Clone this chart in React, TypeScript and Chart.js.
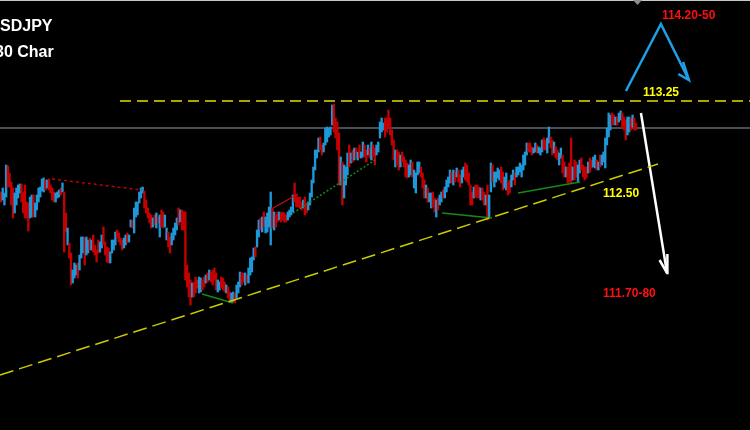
import React, { useEffect, useRef } from "react";
import { Chart, registerables } from "chart.js";

Chart.register(...registerables);

// Bar highs / lows (USDJPY, price), oldest first
const highs = [
  112.79,112.81,112.785,112.925,112.92,112.885,112.84,112.81,112.785,112.81,
  112.825,112.83,112.83,112.79,112.825,112.74,112.735,112.765,112.775,112.775,
  112.735,112.775,112.81,112.815,112.855,112.86,112.85,112.85,112.855,112.825,
  112.81,112.79,112.785,112.79,112.80,112.81,112.835,112.79,112.685,112.61,
  112.535,112.485,112.40,112.435,112.425,112.435,112.475,112.565,112.565,112.56,
  112.565,112.55,112.56,112.55,112.575,112.525,112.50,112.55,112.54,112.575,
  112.615,112.54,112.515,112.51,112.49,112.55,112.55,112.59,112.60,112.585,
  112.56,112.55,112.56,112.575,112.585,112.575,112.65,112.65,112.71,112.74,
  112.74,112.79,112.81,112.815,112.795,112.75,112.71,112.685,112.675,112.66,
  112.675,112.685,112.665,112.675,
  112.70,112.69,112.675,112.61,112.59,112.565,112.585,112.61,112.635,112.66,
  112.71,112.70,112.70,112.69,112.69,112.425,112.385,112.35,112.335,112.34,
  112.365,112.35,112.365,112.36,112.35,112.365,112.375,112.385,112.40,112.39,
  112.40,112.41,112.385,112.35,112.34,112.365,112.36,112.34,112.325,112.315,
  112.29,112.285,112.29,112.285,112.325,112.34,112.39,112.385,112.385,112.385,
  112.375,112.41,112.46,112.465,112.51,112.515,112.60,112.65,112.66,112.665,
  112.69,112.665,112.685,112.715,112.79,112.71,112.69,112.675,112.69,112.69,
  112.685,112.69,112.685,112.675,112.69,112.70,112.715,112.775,112.835,112.775,
  112.765,112.765,112.74,112.75,112.765,112.735,112.74,112.785,112.85,112.915,
  113.00,
  113.00,113.06,113.065,113.025,113.035,113.11,113.115,113.11,113.115,113.225,
  113.23,113.16,113.14,113.085,112.965,112.94,112.925,112.915,112.985,113.025,
  112.985,113.00,113.01,113.01,112.99,113.025,112.99,113.04,113.025,113.00,
  113.025,113.01,113.04,113.025,113.01,113.025,113.04,113.14,113.16,113.135,
  113.16,113.16,113.20,113.16,113.10,113.05,113.00,113.00,112.99,112.975,
  112.99,112.965,112.95,112.935,112.925,112.95,112.94,112.90,112.885,112.94,
  112.94,112.915,112.885,112.85,112.825,112.81,112.785,112.785,112.79,112.76,
  112.75,112.76,112.775,112.79,112.80,112.815,112.85,112.865,112.90,112.89,
  112.90,112.89,112.91,112.90,112.875,112.90,112.915,112.935,112.925,112.885,
  112.825,112.79,112.815,112.825,
  112.825,112.815,112.81,112.81,112.79,112.775,112.825,112.775,112.935,112.925,
  112.89,112.89,112.91,112.90,112.915,112.89,112.865,112.885,112.84,112.85,
  112.875,112.90,112.885,112.915,112.915,112.935,112.925,112.975,112.99,113.035,
  113.035,113.035,113.015,113.01,113.035,113.025,113.015,113.01,113.05,113.06,
  113.05,113.06,113.115,113.065,113.05,113.04,113.015,113.00,112.985,113.01,
  112.975,112.94,112.915,112.915,112.935,113.06,112.915,112.95,112.94,112.925,
  112.95,112.96,112.925,112.915,112.915,112.94,112.96,112.95,112.965,112.975,
  112.95,112.94,112.975,112.975,112.99,113.06,113.11,113.185,113.175,113.185,
  113.175,113.165,113.165,113.185,113.195,113.185,113.165,113.15,113.165,113.165,
  113.16,113.175,113.16,113.135,
];

const lows = [
  112.74,112.75,112.725,112.765,112.815,112.815,112.725,112.66,112.685,112.725,
  112.76,112.785,112.74,112.685,112.66,112.66,112.595,112.66,112.665,112.665,
  112.665,112.70,112.74,112.765,112.795,112.79,112.80,112.81,112.80,112.785,
  112.75,112.74,112.74,112.76,112.765,112.775,112.79,112.49,112.59,112.525,
  112.46,112.325,112.335,112.36,112.375,112.36,112.40,112.46,112.485,112.425,
  112.475,112.485,112.50,112.50,112.49,112.475,112.44,112.485,112.49,112.51,
  112.525,112.475,112.44,112.435,112.435,112.485,112.50,112.525,112.56,112.54,
  112.525,112.50,112.51,112.525,112.535,112.54,112.615,112.61,112.585,112.665,
  112.675,112.735,112.76,112.785,112.71,112.685,112.66,112.635,112.61,112.615,
  112.625,112.61,112.635,112.565,
  112.615,112.61,112.615,112.55,112.515,112.485,112.525,112.55,112.575,112.60,
  112.625,112.64,112.60,112.60,112.35,112.315,112.265,112.225,112.265,112.265,
  112.285,112.31,112.285,112.29,112.30,112.315,112.335,112.34,112.35,112.34,
  112.325,112.35,112.30,112.29,112.30,112.31,112.30,112.29,112.285,112.26,
  112.24,112.24,112.24,112.235,112.26,112.285,112.315,112.325,112.34,112.325,
  112.335,112.335,112.375,112.39,112.45,112.465,112.515,112.565,112.60,112.59,
  112.615,112.585,112.59,112.615,112.525,112.61,112.60,112.615,112.64,112.65,
  112.64,112.65,112.64,112.64,112.65,112.665,112.675,112.69,112.74,112.715,
  112.715,112.71,112.70,112.71,112.675,112.685,112.70,112.725,112.765,112.835,
  112.90,
  112.96,112.99,113.00,112.975,112.99,113.025,113.04,113.065,113.075,113.125,
  113.09,113.06,113.00,112.825,112.825,112.725,112.76,112.825,112.875,112.915,
  112.935,112.94,112.95,112.96,112.95,112.96,112.96,112.965,112.965,112.94,
  112.975,112.96,112.95,112.965,112.925,112.975,112.99,113.06,113.09,113.10,
  113.065,113.09,113.115,113.075,113.025,112.95,112.915,112.925,112.90,112.915,
  112.94,112.915,112.865,112.86,112.865,112.875,112.865,112.81,112.785,112.875,
  112.885,112.865,112.81,112.76,112.76,112.74,112.74,112.71,112.715,112.69,
  112.665,112.70,112.725,112.74,112.76,112.76,112.79,112.815,112.835,112.835,
  112.825,112.84,112.865,112.84,112.815,112.835,112.865,112.85,112.84,112.825,
  112.725,112.725,112.76,112.765,
  112.76,112.76,112.75,112.75,112.725,112.725,112.65,112.665,112.79,112.84,
  112.815,112.84,112.86,112.85,112.835,112.80,112.81,112.80,112.775,112.785,
  112.815,112.85,112.825,112.865,112.875,112.89,112.865,112.90,112.925,112.975,
  112.99,112.99,112.975,112.985,112.99,112.985,112.985,112.975,112.99,113.00,
  113.00,112.985,113.035,113.01,112.975,112.985,112.96,112.95,112.925,112.96,
  112.885,112.865,112.865,112.835,112.84,112.835,112.85,112.85,112.865,112.84,
  112.885,112.90,112.865,112.85,112.86,112.885,112.89,112.91,112.915,112.91,
  112.90,112.90,112.915,112.925,112.94,112.91,113.025,113.065,113.10,113.125,
  113.125,113.125,113.125,113.14,113.15,113.11,113.10,113.05,113.075,113.09,
  113.10,113.115,113.10,113.10,
];

// u = up bar (blue), d = down bar (red), same order as highs/lows
const dirsA =
  "duuudddduu" + "uuddddduud" + "uuuuuududd" + "dduuududdu" + "dduuuduuud" +
  "uududddduu" + "dddduuuudd" + "dduuduuduu" + "uuuudddddu" + "dudu";
const dirsB =
  "dduudduuuu" + "duddddddud" + "dduuddudud" + "ddduudddud" + "duuduuuddu" +
  "duuuuduudu" + "duuuududdu" + "dddduuuudd" + "dddudduuuu" + "u";
const dirsC =
  "uudduuuuuu" + "dddduduuud" + "udududuudd" + "ududduuuuu" + "dddddduddu" +
  "dddduuduuu" + "uddduduudd" + "uduuduuuud" + "ududduuddd" + "ddud";
const dirsD =
  "ddudduduud" + "uuuudduudd" + "uuduuuuuuu" + "ddduuduuud" + "duuddudduu" +
  "dduddduddu" + "uddddudduu" + "duduuuuuud" + "duduuddduu" + "dudd";

const barDirs = (dirsA + dirsB + dirsC + dirsD).split("");

// Levels and drawn lines (x = bar index, y = price)
const resistanceLevel = 113.245;
const pivotLevel = 113.11;
const supportTrend = [
  { x: -0.6, y: 111.875 },
  { x: 384.9, y: 112.93 },
];
const redDottedTrend = [
  { x: 29.9, y: 112.855 },
  { x: 82.6, y: 112.8 },
];
const redSolidTrend = [
  { x: 159.4, y: 112.71 },
  { x: 174.0, y: 112.78 },
];
const greenLow1 = [
  { x: 117.8, y: 112.28 },
  { x: 135.9, y: 112.235 },
];
const greenDotted = [
  { x: 171.1, y: 112.685 },
  { x: 219.1, y: 112.95 },
];
const greenLow2 = [
  { x: 258.4, y: 112.685 },
  { x: 287.6, y: 112.66 },
];
const greenLow3 = [
  { x: 302.9, y: 112.785 },
  { x: 339.2, y: 112.84 },
];
const bullPath = [
  { x: 366.1, y: 113.295 },
  { x: 386.6, y: 113.63 },
  { x: 403.0, y: 113.35 },
];
const bullHead = [
  { x: 399.6, y: 113.44 },
  { x: 403.0, y: 113.35 },
  { x: 396.8, y: 113.38 },
];
const bearPath = [
  { x: 374.9, y: 113.185 },
  { x: 390.2, y: 112.385 },
];
const bearHead = [
  { x: 385.8, y: 112.45 },
  { x: 390.2, y: 112.385 },
  { x: 390.4, y: 112.48 },
];

const levelLabels = [
  { text: "114.20-50", x: 387.2, y: 113.655, color: "#ff1010" },
  { text: "113.25", x: 376.1, y: 113.27, color: "#ffff00" },
  { text: "112.50", x: 352.7, y: 112.765, color: "#ffff00" },
  { text: "111.70-80", x: 352.7, y: 112.265, color: "#ff1010" },
];

const titleLines = ["USDJPY", "30 Char"];

const X_MIN = -0.6;
const X_MAX = 438.8;
const Y_MIN = 111.6;
const Y_MAX = 113.75;

function lineDs(data: any[], color: string, width: number, dash: number[], order = 0) {
  return {
    type: "line" as const,
    data,
    borderColor: color,
    backgroundColor: color,
    borderWidth: width,
    borderDash: dash,
    pointRadius: 0,
    tension: 0,
    fill: false,
    order,
    borderCapStyle: "butt" as const,
  };
}

export default function App() {
  const ref = useRef<HTMLCanvasElement | null>(null);

  useEffect(() => {
    document.body.style.margin = "0";
    document.body.style.background = "#000";
    const canvas = ref.current;
    if (!canvas) return;

    const bg = {
      id: "bg",
      beforeDraw(chart: any) {
        const ctx = chart.ctx;
        ctx.save();
        ctx.fillStyle = "#000000";
        ctx.fillRect(0, 0, chart.width, chart.height);
        ctx.restore();
      },
      afterDraw(chart: any) {
        const ctx = chart.ctx;
        const xs = chart.scales.x;
        const ys = chart.scales.y;
        ctx.save();
        ctx.fillStyle = "#c8c8c8";
        ctx.fillRect(0, 0, chart.width, 1);
        ctx.fillStyle = "#8c8c8c";
        ctx.beginPath();
        ctx.moveTo(633, 0);
        ctx.lineTo(642, 0);
        ctx.lineTo(637.5, 5);
        ctx.closePath();
        ctx.fill();
        ctx.fillStyle = "#ffffff";
        ctx.font = "bold 16px 'Liberation Sans', Arial, sans-serif";
        ctx.textBaseline = "alphabetic";
        const uw = ctx.measureText("U").width;
        ctx.fillText(titleLines[0], -uw, 31);
        ctx.fillText(titleLines[1], -5, 57);
        ctx.font = "bold 12px 'Liberation Sans', Arial, sans-serif";
        for (const l of levelLabels) {
          ctx.fillStyle = l.color;
          ctx.fillText(l.text, xs.getPixelForValue(l.x), ys.getPixelForValue(l.y));
        }
        ctx.restore();
      },
    };

    const barData = highs.map((h, i) => ({ x: i, y: [lows[i], h] }));
    const barColors = highs.map((_, i) => (barDirs[i] === "u" ? "#1e98d8" : "#c40000"));

    const chart = new Chart(canvas, {
      type: "bar",
      data: {
        datasets: [
          {
            type: "bar",
            data: barData as any,
            backgroundColor: barColors,
            borderWidth: 0,
            barThickness: 1.7,
            grouped: false,
            order: 5,
          } as any,
          lineDs([{ x: X_MIN, y: pivotLevel }, { x: X_MAX, y: pivotLevel }], "#8c9cb0", 1, [], 10),
          lineDs([{ x: 69.7, y: resistanceLevel }, { x: X_MAX, y: resistanceLevel }], "#a8a800", 2, [11, 6]),
          lineDs(supportTrend, "#cccc00", 1.5, [14, 6]),
          lineDs(redDottedTrend, "#c00000", 1.5, [3, 3]),
          lineDs(redSolidTrend, "#c01010", 1.2, []),
          lineDs(greenLow1, "#168a16", 1.5, []),
          lineDs(greenDotted, "#168a16", 1.5, [2, 2]),
          lineDs(greenLow2, "#168a16", 1.5, []),
          lineDs(greenLow3, "#168a16", 1.5, []),
          lineDs(bullPath, "#1ea0e6", 2.5, []),
          lineDs(bullHead, "#1ea0e6", 2.5, []),
          lineDs(bearPath, "#ffffff", 2.5, []),
          lineDs(bearHead, "#ffffff", 2.5, []),
        ] as any,
      },
      options: {
        animation: false,
        responsive: false,
        devicePixelRatio: 1,
        layout: { padding: 0 },
        plugins: { legend: { display: false }, tooltip: { enabled: false } },
        scales: {
          x: { type: "linear", min: X_MIN, max: X_MAX, display: false, offset: false },
          y: { type: "linear", min: Y_MIN, max: Y_MAX, display: false },
        },
      },
      plugins: [bg],
    });

    return () => chart.destroy();
  }, []);

  return (
    <div style={{ width: 750, height: 430, background: "#000" }}>
      <canvas ref={ref} width={750} height={430} style={{ display: "block" }} />
    </div>
  );
}
